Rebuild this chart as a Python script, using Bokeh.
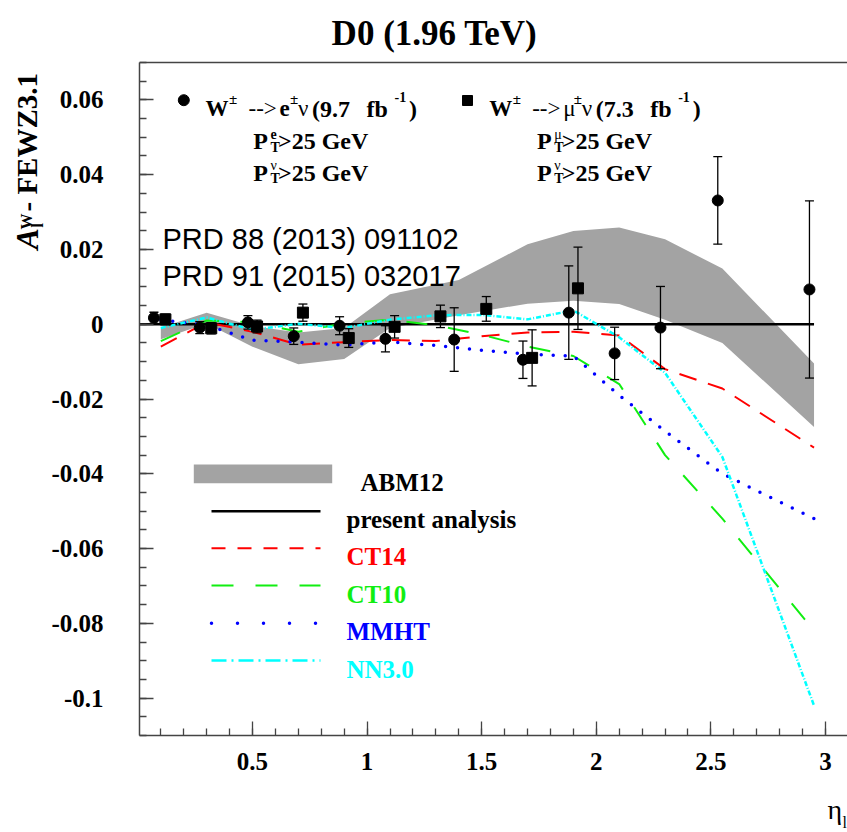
import numpy as np
from bokeh.plotting import figure
from bokeh.models import Label, FixedTicker, Range1d, Span, Title
from bokeh.embed import file_html
from bokeh.resources import INLINE

# ---------------- data ----------------
# W -> e nu (circles)
e_eta = [0.07, 0.27, 0.48, 0.68, 0.88, 1.08, 1.38, 1.68, 1.88, 2.08, 2.28, 2.53, 2.93]
e_val = [0.0017, -0.0009, 0.0005, -0.0032, -0.0004, -0.0039, -0.0041, -0.0095, 0.0031, -0.0078, -0.0009, 0.0331, 0.0093]
e_err = [0.0015, 0.0016, 0.0018, 0.0022, 0.0024, 0.0035, 0.0085, 0.0050, 0.0125, 0.0070, 0.0110, 0.0117, 0.0237]
# W -> mu nu (squares)
mu_eta = [0.12, 0.32, 0.52, 0.72, 0.92, 1.12, 1.32, 1.52, 1.72, 1.92]
mu_val = [0.0013, -0.0011, -0.0006, 0.0031, -0.0037, -0.0007, 0.0021, 0.0041, -0.0090, 0.0096]
mu_err = [0.0014, 0.0015, 0.0017, 0.0023, 0.0025, 0.0030, 0.0030, 0.0033, 0.0075, 0.0110]

# theory curves
th_eta = [0.1, 0.3, 0.5, 0.7, 0.9, 1.1, 1.3, 1.5, 1.7, 1.9, 2.1, 2.3, 2.55, 2.95]
ct14 = [-0.0060, 0.0005, -0.0020, -0.0055, -0.0048, -0.0042, -0.0045, -0.0032, -0.0022, -0.0020, -0.0030, -0.0120, -0.0172, -0.0330]
ct10 = [-0.0045, 0.0010, 0.0005, -0.0020, 0.0002, 0.0012, -0.0003, -0.0028, -0.0060, -0.0085, -0.0160, -0.0350, -0.0520, -0.0820]
mmht = [0.0011, -0.0002, -0.0043, -0.0048, -0.0056, -0.0047, -0.0057, -0.0070, -0.0080, -0.0085, -0.0190, -0.0286, -0.0400, -0.0520]
nn30 = [-0.0010, 0.0018, -0.0015, 0.0001, -0.0010, 0.0012, 0.0024, 0.0025, 0.0013, 0.0037, -0.0035, -0.0130, -0.0355, -0.1020]

# ABM12 band
abm_eta = [0.1, 0.3, 0.5, 0.7, 0.9, 1.1, 1.4, 1.7, 1.9, 2.1, 2.3, 2.55, 2.95]
abm_hi = [-0.0009, 0.0031, -0.0005, -0.0022, -0.0010, 0.0080, 0.0118, 0.0214, 0.0249, 0.0259, 0.0227, 0.0149, -0.0105]
abm_lo = [-0.0040, 0.0002, -0.0060, -0.0107, -0.0093, -0.0010, 0.0024, 0.0055, 0.0063, 0.0054, 0.0012, -0.0050, -0.0275]

# present analysis (reference line)
pres_eta = [0.0, 2.95]
pres_val = [0.0, 0.0]

# ticks
x_ticks = [0.5, 1.0, 1.5, 2.0, 2.5, 3.0]
x_tick_labels = ["0.5", "1", "1.5", "2", "2.5", "3"]
y_ticks = [-0.1, -0.08, -0.06, -0.04, -0.02, 0.0, 0.02, 0.04, 0.06]
y_tick_labels = ["-0.1", "-0.08", "-0.06", "-0.04", "-0.02", "0", "0.02", "0.04", "0.06"]
y_top = 0.07

# ---------------- geometry helpers (pixel in picture -> data) ----------------
KX = 229.2            # px per unit eta
KY = 673.0 / 0.18     # px per unit asymmetry
FL, FB = 139.0, 735.0  # frame left / x-axis position in the picture
X0 = 0.007
X1 = X0 + (847 - FL) / KX
Y0 = -0.11
Y1 = Y0 + FB / KY


def dx(px):
    return X0 + (px - FL) / KX


def dy(py):
    return Y0 + (FB - py) / KY


SERIF = "Liberation Serif"
SANS = "Liberation Sans"
AXC = "#444444"

p = figure(width=847, height=832, x_range=Range1d(X0, X1), y_range=Range1d(Y0, Y1),
           output_backend="svg", toolbar_location=None,
           min_border_left=139, min_border_right=0, min_border_top=0, min_border_bottom=97)
p.title.visible = False
p.outline_line_color = None
p.xgrid.visible = False
p.ygrid.visible = False
p.background_fill_color = "white"
p.border_fill_color = "white"

# axes
p.xaxis.ticker = FixedTicker(ticks=x_ticks, minor_ticks=[round(v, 3) for v in np.arange(0.1, 3.05, 0.1)])
p.xaxis.major_label_overrides = {t: l for t, l in zip(x_ticks, x_tick_labels)}
p.yaxis.ticker = FixedTicker(ticks=y_ticks, minor_ticks=[round(v, 4) for v in np.arange(-0.11, 0.0701, 0.005)])
p.yaxis.major_label_overrides = {t: l for t, l in zip(y_ticks, y_tick_labels)}
p.yaxis.bounds = (Y0, y_top)
for ax in (p.xaxis[0], p.yaxis[0]):
    ax.axis_line_color = AXC
    ax.axis_line_width = 1.5
    ax.major_tick_line_color = AXC
    ax.minor_tick_line_color = AXC
    ax.major_tick_line_width = 1.3
    ax.minor_tick_line_width = 1.3
    ax.major_tick_out = 0
    ax.minor_tick_out = 0
    ax.major_tick_in = 14
    ax.minor_tick_in = 7
    ax.major_label_text_font = SERIF
    ax.major_label_text_font_size = "25px"
    ax.major_label_text_font_style = "bold"
    ax.major_label_text_color = "black"
p.xaxis.major_label_standoff = 17
p.yaxis.major_label_standoff = 36

# top frame line
p.add_layout(Span(location=y_top, dimension="width", line_color=AXC, line_width=1.5))

# ABM12 band
p.varea(x=abm_eta, y1=abm_lo, y2=abm_hi, fill_color="#a3a3a3")
# present analysis
p.line(pres_eta, pres_val, line_color="black", line_width=2.5)
# theory curves
p.line(th_eta, ct14, line_color="#ff0000", line_width=2, line_dash="18 12")
p.line(th_eta, ct10, line_color="#11ee11", line_width=2, line_dash="21 21")
p.line(th_eta, mmht, line_color="#0000ff", line_width=3.5, line_dash="0 12", line_cap="round")
p.line(th_eta, nn30, line_color="#00ffff", line_width=2.5, line_dash="5 2 1 2")

# error bars and data points
for xs, ys, es, mk in ((e_eta, e_val, e_err, "circle"), (mu_eta, mu_val, mu_err, "square")):
    lo = [y - e for y, e in zip(ys, es)]
    hi = [y + e for y, e in zip(ys, es)]
    p.segment(x0=xs, y0=lo, x1=xs, y1=hi, line_color="black", line_width=1.3)
    p.scatter(x=list(xs) + list(xs), y=lo + hi, marker="dash", size=9, line_color="black", line_width=1.3)
    p.scatter(x=xs, y=ys, marker=mk, size=11, fill_color="black", line_color="black")


def lab(px, py, text, size, style="bold", color="black", font=SERIF, align="left"):
    p.add_layout(Label(x=dx(px), y=dy(py), text=text, text_font=font, text_font_size=f"{size}px",
                       text_font_style=style, text_color=color, text_align=align,
                       text_baseline="alphabetic"))


def side_title(side, text, size, offset, standoff, style="bold", valign="middle"):
    p.add_layout(Title(text=text, align="left", offset=offset, standoff=standoff, vertical_align=valign,
                       text_font=SERIF, text_font_size=f"{size}px", text_font_style=style,
                       text_color="black"), side)


# title (inside the extended frame)
lab(434, 33, "D0 (1.96 TeV)", 35, align="center")

# y axis title: pieces stacked in the left panel
side_title("left", "l", 16, 508, 3)
side_title("left", "- FEWZ3.1", 29, 524, -35)
side_title("left", "A", 32, 486, -39, style="bold italic")
side_title("left", "W", 16, 506, -20)

# x axis title
side_title("below", "η", 28, 688, -104, style="normal", valign="bottom")
side_title("below", "l", 16, 703, -116, style="normal", valign="bottom")

# top annotation: two channels
p.scatter([dx(183.3)], [dy(99.7)], marker="circle", size=11, fill_color="black", line_color="black")
p.scatter([dx(467.0)], [dy(100.0)], marker="square", size=10, fill_color="black", line_color="black")
for off, lep, lumi in ((0.0, "e", "(9.7"), (283.7, "μ", "(7.3")):
    lab(205 + off, 108, "W", 23)
    lab(228.5 + off, 98, "±", 15)
    lab(248 + off, 108, "-->", 23, style="normal")
    lab(279 + off, 108, lep, 23, style="bold" if lep == "e" else "normal")
    lab(289.5 + off, 98, "±", 15)
    lab(297.5 + off, 108, "ν", 23, style="normal")
    lab(311.5 + off, 108, lumi, 24)
    lab(366 + off, 108, "fb", 24)
    lab(394 + off, 96, "-1", 14)
    lab(408.5 + off, 108, ")", 24)
    for base, sup in ((140.5, lep), (172.0, "ν")):
        lab(252.7 + off, base, "P", 24)
        lab(270 + off, base - 7, sup, 14, style="bold" if sup == "e" else "normal")
        lab(270 + off, base + 6, "T", 14)
        lab(277.5 + off, base, ">25 GeV", 24)

# references
lab(162, 238.5, "PRD 88 (2013) 091102", 29, style="normal", font=SANS)
lab(162, 275, "PRD 91 (2015) 032017", 29, style="normal", font=SANS)

# legend
p.quad(left=[dx(193.3)], right=[dx(331.7)], top=[dy(464)], bottom=[dy(482.7)], fill_color="#a3a3a3", line_color=None)
lab(360, 481.5, "ABM12", 25)
leg = [
    (510.7, "present analysis", "black", 2.5, "solid", "butt"),
    (547.7, "CT14", "#ff0000", 2, "14 12", "butt"),
    (585.0, "CT10", "#11ee11", 2, "22 22", "butt"),
    (622.7, "MMHT", "#0000ff", 3.5, "0 26", "round"),
    (660.0, "NN3.0", "#00ffff", 2.5, "15 5 2 5", "butt"),
]
for yy, name, col, lw, dash, cap in leg:
    p.line([dx(211), dx(320)], [dy(yy), dy(yy)], line_color=col, line_width=lw, line_dash=dash, line_cap=cap)
    lab(346, yy + 8.5, name, 25, color=col)

open("out.html", "w").write(file_html(p, INLINE))
